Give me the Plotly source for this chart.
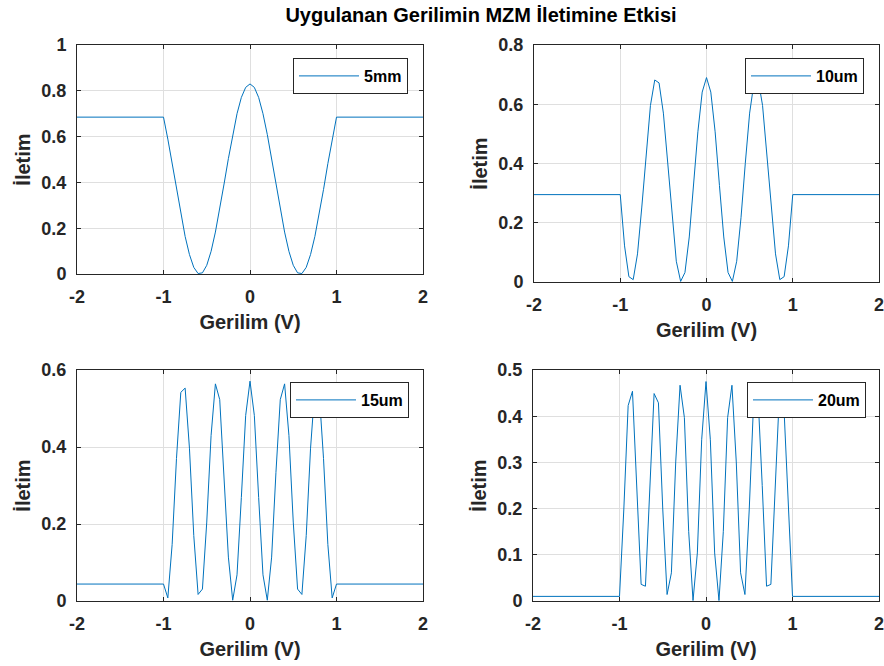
import numpy as np
import plotly.graph_objects as go

# ---------------- data ----------------
SERIES_NAMES = ["5mm", "10um", "15um", "20um"]

# sample grid of the oscillating region (-1 .. 1, step 0.05) plus the flat ends
V_INNER = np.round(np.linspace(-1.0, 1.0, 41), 2).tolist()
V_ALL = [-2.0] + V_INNER + [2.0]

T_5MM = [0.685, 0.589, 0.482, 0.369, 0.261, 0.164, 0.085, 0.029, 0.002, 0.005,
         0.038, 0.099, 0.183, 0.283, 0.393, 0.504, 0.609, 0.700, 0.771, 0.815,
         0.830,
         0.815, 0.771, 0.700, 0.609, 0.504, 0.393, 0.283, 0.183, 0.099, 0.038,
         0.005, 0.002, 0.029, 0.085, 0.164, 0.261, 0.369, 0.482, 0.589, 0.685]

T_10UM = [0.295, 0.122, 0.018, 0.008, 0.095, 0.253, 0.437, 0.596, 0.682, 0.672,
          0.570, 0.401, 0.217, 0.070, 0.002, 0.032, 0.152, 0.326, 0.507, 0.641,
          0.690,
          0.641, 0.507, 0.326, 0.152, 0.032, 0.002, 0.070, 0.217, 0.401, 0.570,
          0.672, 0.682, 0.596, 0.437, 0.253, 0.095, 0.008, 0.018, 0.122, 0.295]

T_15UM = [0.044, 0.008, 0.147, 0.370, 0.542, 0.553, 0.397, 0.170, 0.017, 0.031,
          0.205, 0.430, 0.564, 0.523, 0.334, 0.114, 0.002, 0.068, 0.269, 0.482,
          0.571,
          0.482, 0.269, 0.068, 0.002, 0.114, 0.334, 0.523, 0.564, 0.430, 0.205,
          0.031, 0.017, 0.170, 0.397, 0.553, 0.542, 0.370, 0.147, 0.008, 0.044]

T_20UM = [0.010, 0.199, 0.423, 0.454, 0.250, 0.036, 0.032, 0.250, 0.449, 0.429,
          0.199, 0.014, 0.061, 0.301, 0.467, 0.397, 0.150, 0.001, 0.104, 0.349,
          0.475,
          0.349, 0.104, 0.001, 0.150, 0.397, 0.467, 0.301, 0.061, 0.014, 0.199,
          0.429, 0.449, 0.250, 0.032, 0.036, 0.250, 0.454, 0.423, 0.199, 0.010]

FLAT_LEVELS = [0.685, 0.295, 0.044, 0.010]

X_TICKS = [-2, -1, 0, 1, 2]
X_TICK_LABELS = ["-2", "-1", "0", "1", "2"]
Y_RANGES = [[0, 1], [0, 0.8], [0, 0.6], [0, 0.5]]
Y_DTICKS = [0.2, 0.2, 0.2, 0.1]

TITLE = "Uygulanan Gerilimin MZM İletimine Etkisi"
X_TITLE = "Gerilim (V)"
Y_TITLE = "İletim"

# ---------------- figure ----------------
W, H = 884, 666
FONT = "Liberation Sans, Arial, Helvetica, sans-serif"
AX_COLOR = "#262626"
LINE_COLOR = "#0072BD"

# subplot boxes in pixels: (left, right, top, bottom)
BOXES = [(77, 423, 45, 274), (534, 879, 45, 282),
         (77, 423, 370, 601), (533, 879, 370, 601)]
LEGEND_POS = [(408, 58), (864, 58), (409, 382), (866, 382)]

series = [T_5MM, T_10UM, T_15UM, T_20UM]

fig = go.Figure()
for i, (name, vals, flat) in enumerate(zip(SERIES_NAMES, series, FLAT_LEVELS)):
    suffix = "" if i == 0 else str(i + 1)
    y = [flat] + vals + [flat]
    fig.add_trace(go.Scatter(
        x=V_ALL, y=y, mode="lines", name=name,
        line=dict(color=LINE_COLOR, width=1),
        xaxis="x" + suffix, yaxis="y" + suffix,
        legend="legend" + suffix, showlegend=True,
    ))

layout = dict(
    width=W, height=H,
    margin=dict(l=0, r=0, t=0, b=0, autoexpand=False),
    paper_bgcolor="white", plot_bgcolor="white",
    font=dict(family=FONT, color=AX_COLOR),
    title=dict(text="<b>" + TITLE + "</b>", x=481 / W, xanchor="center",
               y=1 - 15 / H, yanchor="middle", automargin=False,
               font=dict(size=20, color="black", family=FONT)),
)

for i in range(4):
    suffix = "" if i == 0 else str(i + 1)
    l, r, t, b = BOXES[i]
    common = dict(
        showline=True, linecolor=AX_COLOR, linewidth=1, mirror="ticks",
        ticks="inside", ticklen=4, tickcolor=AX_COLOR, tickwidth=1,
        showgrid=True, gridcolor="#dfdfdf", gridwidth=1, zeroline=False,
        tickfont=dict(size=18, family=FONT, color=AX_COLOR, weight="bold"),
        fixedrange=True, automargin=False, ticklabeloverflow="allow",
    )
    layout["xaxis" + suffix] = dict(
        common, domain=[l / W, r / W], range=[-2, 2],
        tickvals=X_TICKS, ticktext=X_TICK_LABELS,
        anchor="y" + suffix, ticklabelstandoff=6,
        title=dict(text="<b>" + X_TITLE + "</b>", standoff=9,
                   font=dict(size=20, family=FONT, color=AX_COLOR)),
    )
    layout["yaxis" + suffix] = dict(
        common, domain=[1 - b / H, 1 - t / H], range=Y_RANGES[i],
        dtick=Y_DTICKS[i], tick0=0, anchor="x" + suffix, ticklabelstandoff=6,
        title=dict(text="<b>" + Y_TITLE + "</b>", standoff=5,
                   font=dict(size=20, family=FONT, color=AX_COLOR)),
    )
    lx, ly = LEGEND_POS[i]
    layout["legend" + suffix] = dict(
        x=lx / W, y=1 - ly / H, xanchor="right", yanchor="top",
        xref="paper", yref="paper",
        bgcolor="white", bordercolor=AX_COLOR, borderwidth=1,
        font=dict(size=16, family=FONT, color="black", weight="bold"),
        itemwidth=60,
    )

fig.update_layout(**layout)
fig.write_html("out.html")
